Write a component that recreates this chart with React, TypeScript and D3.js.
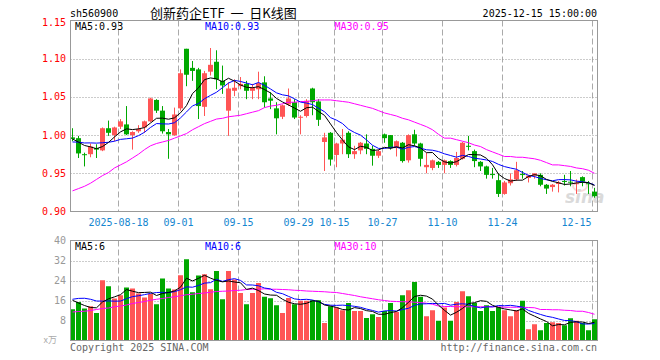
import React, { useEffect, useRef } from 'react'
import * as d3 from 'd3'

// trading days shown on the chart (2025-08-06 .. 2025-12-15)
const dates = [
  '08-06', '08-07', '08-08', '08-11', '08-12', '08-13', '08-14', '08-15', '08-18', '08-19',
  '08-20', '08-21', '08-22', '08-25', '08-26', '08-27', '08-28', '08-29', '09-01', '09-02',
  '09-03', '09-04', '09-05', '09-08', '09-09', '09-10', '09-11', '09-12', '09-15', '09-16',
  '09-17', '09-18', '09-19', '09-22', '09-23', '09-24', '09-25', '09-26', '09-29', '09-30',
  '10-09', '10-10', '10-13', '10-14', '10-15', '10-16', '10-17', '10-20', '10-21', '10-22',
  '10-23', '10-24', '10-27', '10-28', '10-29', '10-30', '10-31', '11-03', '11-04', '11-05',
  '11-06', '11-07', '11-10', '11-11', '11-12', '11-13', '11-14', '11-17', '11-18', '11-19',
  '11-20', '11-21', '11-24', '11-25', '11-26', '11-27', '11-28', '12-01', '12-02', '12-03',
  '12-04', '12-05', '12-08', '12-09', '12-10', '12-11', '12-12', '12-15'
]

const opens = [
  0.997, 0.996, 0.975, 0.975, 0.983, 0.980, 1.009, 1.000, 1.011, 1.014,
  1.000, 1.005, 1.010, 1.018, 1.046, 1.032, 1.004, 1.000, 1.035, 1.113,
  1.088, 1.086, 1.037, 1.083, 1.096, 1.071, 1.032, 1.058, 1.064, 1.067,
  1.058, 1.060, 1.069, 1.048, 1.035, 1.024, 1.040, 1.043, 1.023, 1.025,
  1.061, 1.044, 0.991, 1.003, 0.974, 0.989, 1.003, 0.975, 0.980, 0.989,
  0.982, 0.973, 1.001, 1.000, 0.983, 0.990, 0.967, 1.001, 0.989, 0.958,
  0.957, 0.965, 0.961, 0.966, 0.961, 0.969, 0.986, 0.979, 0.965, 0.959,
  0.949, 0.941, 0.923, 0.937, 0.942, 0.949, 0.944, 0.947, 0.948, 0.935,
  0.932, 0.936, 0.940, 0.939, 0.936, 0.945, 0.937, 0.926
]
const highs = [
  1.009, 0.999, 0.977, 0.989, 0.988, 1.010, 1.019, 1.011, 1.021, 1.038,
  1.005, 1.013, 1.019, 1.049, 1.047, 1.038, 1.008, 1.036, 1.086, 1.113,
  1.097, 1.088, 1.084, 1.114, 1.111, 1.091, 1.069, 1.073, 1.076, 1.071,
  1.067, 1.083, 1.077, 1.056, 1.043, 1.040, 1.061, 1.047, 1.026, 1.047,
  1.062, 1.047, 1.003, 1.004, 0.990, 1.008, 1.005, 0.986, 0.991, 1.001,
  0.986, 0.981, 1.002, 1.000, 0.993, 0.991, 1.001, 1.007, 0.990, 0.977,
  0.968, 0.966, 0.968, 0.967, 0.978, 0.991, 0.999, 0.981, 0.966, 0.960,
  0.957, 0.950, 0.940, 0.950, 0.965, 0.953, 0.948, 0.950, 0.950, 0.936,
  0.936, 0.940, 0.948, 0.953, 0.942, 0.946, 0.940, 0.931
]
const lows = [
  0.992, 0.970, 0.959, 0.971, 0.970, 0.979, 0.999, 0.992, 1.008, 1.000,
  0.981, 1.003, 1.003, 1.017, 1.029, 1.002, 0.969, 0.999, 1.032, 1.064,
  1.071, 1.021, 1.025, 1.078, 1.060, 1.054, 0.999, 1.051, 1.060, 1.047,
  1.047, 1.047, 1.036, 1.034, 1.001, 1.021, 1.038, 1.021, 1.001, 1.023,
  1.026, 1.012, 0.953, 0.960, 0.958, 0.975, 0.970, 0.969, 0.975, 0.975,
  0.960, 0.970, 0.990, 0.981, 0.972, 0.964, 0.964, 0.986, 0.959, 0.950,
  0.954, 0.957, 0.950, 0.957, 0.959, 0.968, 0.980, 0.958, 0.953, 0.943,
  0.943, 0.919, 0.922, 0.934, 0.940, 0.943, 0.938, 0.943, 0.933, 0.923,
  0.926, 0.925, 0.934, 0.933, 0.923, 0.933, 0.923, 0.918
]
const closes = [
  0.995, 0.976, 0.974, 0.985, 0.981, 1.009, 1.003, 1.010, 1.018, 1.001,
  1.004, 1.008, 1.018, 1.048, 1.032, 1.005, 1.001, 1.027, 1.081, 1.079,
  1.084, 1.038, 1.081, 1.092, 1.073, 1.065, 1.061, 1.062, 1.067, 1.058,
  1.062, 1.068, 1.043, 1.045, 1.022, 1.039, 1.048, 1.023, 1.024, 1.045,
  1.043, 1.020, 0.997, 0.968, 0.989, 0.994, 0.975, 0.979, 0.990, 0.982,
  0.973, 0.979, 0.996, 0.983, 0.992, 0.966, 1.000, 0.989, 0.969, 0.961,
  0.967, 0.961, 0.967, 0.961, 0.970, 0.990, 0.985, 0.966, 0.959, 0.948,
  0.948, 0.923, 0.938, 0.942, 0.954, 0.948, 0.947, 0.950, 0.935, 0.930,
  0.935, 0.938, 0.939, 0.938, 0.937, 0.939, 0.936, 0.920
]
// closes of the 9 sessions before the window, for the MA5 / MA10 warm-up
const priorCloses = [0.978, 0.985, 0.984, 0.984, 1.004, 0.997, 0.996, 0.994, 0.993]
// MA30 of price as drawn
const priceMA30 = [
  0.927, 0.930, 0.933, 0.937, 0.942, 0.947, 0.951, 0.957, 0.961, 0.965,
  0.970, 0.975, 0.981, 0.986, 0.989, 0.991, 0.993, 0.996, 0.999, 1.002,
  1.007, 1.011, 1.015, 1.018, 1.021, 1.022, 1.024, 1.025, 1.026, 1.028,
  1.030, 1.032, 1.036, 1.038, 1.039, 1.041, 1.043, 1.043, 1.044, 1.044,
  1.045, 1.046, 1.046, 1.046, 1.045, 1.044, 1.043, 1.041, 1.039, 1.037,
  1.035, 1.032, 1.029, 1.027, 1.025, 1.022, 1.020, 1.017, 1.014, 1.011,
  1.007, 1.001, 0.996, 0.996, 0.994, 0.992, 0.990, 0.987, 0.985, 0.981,
  0.978, 0.975, 0.972, 0.972, 0.971, 0.971, 0.970, 0.969, 0.967, 0.964,
  0.961, 0.961, 0.960, 0.959, 0.957, 0.956, 0.954, 0.950
]

// volume, 万手
const volumes = [
  12.5, 15.4, 12.8, 13.7, 11.0, 24.1, 21.7, 16.8, 18.1, 21.2,
  20.8, 18.8, 17.2, 18.7, 14.5, 24.8, 20.8, 20.4, 26.1, 32.5,
  19.3, 26.0, 26.5, 20.5, 27.8, 16.5, 27.8, 24.4, 19.0, 14.5,
  19.0, 23.0, 17.5, 16.9, 14.1, 11.0, 17.0, 14.5, 15.9, 15.9,
  16.1, 16.1, 7.0, 13.7, 13.2, 12.1, 15.0, 11.8, 11.8, 9.0,
  10.5, 9.4, 11.8, 15.0, 11.4, 18.1, 20.1, 23.4, 17.5, 9.7,
  12.1, 7.9, 13.2, 7.9, 15.4, 19.7, 17.7, 15.0, 11.8, 14.1,
  11.8, 13.4, 12.1, 9.7, 12.1, 15.9, 4.5, 6.5, 4.1, 7.0,
  7.3, 7.0, 6.1, 8.9, 7.9, 7.0, 4.1, 8.5
]
const priorVolumes = [12.0, 12.2, 17.8, 17.9, 24.6, 20.9, 17.8, 17.7, 11.6]
const volumeMA30 = [
  11.4, 11.6, 11.7, 12.0, 12.4, 12.8, 13.0, 13.5, 13.8, 14.2,
  14.8, 15.2, 15.6, 16.1, 16.5, 16.8, 17.2, 17.5, 17.9, 18.3,
  18.5, 18.8, 19.0, 19.3, 19.6, 19.7, 19.8, 20.0, 20.1, 20.4,
  20.5, 20.5, 20.7, 20.5, 20.5, 20.4, 20.3, 20.1, 20.0, 19.8,
  19.7, 19.6, 19.5, 19.3, 19.2, 18.8, 18.4, 18.0, 17.5, 17.1,
  16.7, 16.3, 16.0, 15.7, 15.6, 15.5, 15.5, 15.3, 15.2, 14.9,
  14.5, 13.8, 13.6, 13.6, 13.5, 13.5, 13.5, 13.5, 13.5, 13.5,
  13.5, 13.5, 13.3, 13.3, 13.3, 13.3, 13.2, 13.1, 12.4, 12.4,
  12.3, 12.3, 12.1, 12.0, 11.7, 11.7, 11.2, 10.5
]

const priceTicks = [0.90, 0.95, 1.00, 1.05, 1.10, 1.15]
const volumeTicks = [8, 16, 24, 32, 40]
const tickDates = ['08-18', '09-01', '09-15', '09-29', '10-15', '10-27', '11-10', '11-24', '12-15']
const tickLabels = ['2025-08-18', '09-01', '09-15', '09-29', '10-15', '10-27', '11-10', '11-24', '12-15']

const RED = '#ff5555'
const GREEN = '#00a800'
const MONO = '"DejaVu Sans Mono", monospace'

// simple moving average with some history in front
function movingAverage(values: number[], prior: number[], n: number) {
  const all = prior.concat(values)
  return values.map((_, i) => {
    const end = prior.length + i
    return d3.mean(all.slice(end - n + 1, end + 1)) as number
  })
}

export default function App() {
  const svgRef = useRef<SVGSVGElement | null>(null)

  useEffect(() => {
    if (!svgRef.current) return
    const svg = d3.select(svgRef.current)
    svg.selectAll('*').remove()

    const left = 70.5, right = 597.5
    const pTop = 20.5, pBottom = 211.5
    const vTop = 240.5, vBottom = 340.5

    const x = d3.scaleBand<string>().domain(dates).range([69.5, 597.5])
    const cx = (d: string) => (x(d) as number) + 3
    const y = d3.scaleLinear().domain([0.90, 1.15]).range([pBottom, pTop])
    const yv = d3.scaleLinear().domain([0, 40]).range([vBottom, vTop])

    const up = (i: number) => closes[i] >= opens[i]

    // header
    svg.append('text').attr('x', 70).attr('y', 13).attr('dominant-baseline', 'central')
      .style('font', `10px ${MONO}`).attr('fill', '#000').text('sh560900')
    svg.append('text').attr('x', 150).attr('y', 12.5).attr('dominant-baseline', 'central')
      .style('font', '13px "Noto Sans CJK SC"').style('white-space', 'pre')
      .attr('fill', '#000').text('创新药企ETF  一  日K线图')
    svg.append('text').attr('x', 597).attr('y', 13).attr('text-anchor', 'end').attr('dominant-baseline', 'central')
      .style('font', `10px ${MONO}`).attr('fill', '#000').text('2025-12-15 15:00:00')

    // grids for both panels
    const panels = [[pTop, pBottom], [vTop, vBottom]]
    panels.forEach(([t, b]) => {
      svg.append('g').selectAll('line').data(tickDates).enter().append('line')
        .attr('x1', d => cx(d) - 2).attr('x2', d => cx(d) - 2)
        .attr('y1', t).attr('y2', b)
        .attr('stroke', '#aaa').attr('stroke-dasharray', '6,3')
    })
    svg.append('g').selectAll('line').data(priceTicks.slice(1, -1)).enter().append('line')
      .attr('x1', left).attr('x2', right)
      .attr('y1', d => Math.round(y(d)) + 0.5).attr('y2', d => Math.round(y(d)) + 0.5)
      .attr('stroke', '#999').attr('stroke-dasharray', '1,2')
    svg.append('g').selectAll('line').data(volumeTicks.slice(0, -1)).enter().append('line')
      .attr('x1', left).attr('x2', right)
      .attr('y1', d => Math.round(yv(d)) + 0.5).attr('y2', d => Math.round(yv(d)) + 0.5)
      .attr('stroke', '#999').attr('stroke-dasharray', '1,2')

    // watermark
    const wm = svg.append('g').attr('opacity', 0.3)
    wm.append('ellipse').attr('cx', 580).attr('cy', 186).attr('rx', 7).attr('ry', 5)
      .attr('fill', 'none').attr('stroke', '#e88').attr('stroke-width', 2)
    wm.append('text').attr('x', 565).attr('y', 203)
      .style('font', 'italic bold 17px "DejaVu Sans"').attr('fill', '#888').text('sina')

    // candles
    const candles = svg.append('g')
    dates.forEach((d, i) => {
      const c = up(i) ? RED : GREEN
      const xc = cx(d)
      candles.append('line')
        .attr('x1', xc).attr('x2', xc)
        .attr('y1', y(highs[i])).attr('y2', y(lows[i]))
        .attr('stroke', c)
      const top = y(Math.max(opens[i], closes[i]))
      const bot = y(Math.min(opens[i], closes[i]))
      candles.append('rect')
        .attr('x', xc - 2.5).attr('width', 5)
        .attr('y', top).attr('height', Math.max(1, bot - top))
        .attr('fill', c)
    })

    // volume bars
    svg.append('g').selectAll('rect').data(volumes).enter().append('rect')
      .attr('x', (_, i) => cx(dates[i]) - 2.5).attr('width', 5)
      .attr('y', v => yv(v)).attr('height', v => vBottom - yv(v))
      .attr('fill', (_, i) => (up(i) ? RED : GREEN))

    // moving averages
    const drawLine = (vals: number[], scale: d3.ScaleLinear<number, number>, color: string) => {
      const line = d3.line<number>().x((_, i) => cx(dates[i])).y(v => scale(v))
      svg.append('path').datum(vals).attr('d', line)
        .attr('fill', 'none').attr('stroke', color).attr('stroke-width', 1)
    }
    drawLine(priceMA30, y, '#ff00ff')
    drawLine(movingAverage(closes, priorCloses, 10), y, '#0000ff')
    drawLine(movingAverage(closes, priorCloses, 5), y, '#000000')
    drawLine(volumeMA30, yv, '#ff00ff')
    drawLine(movingAverage(volumes, priorVolumes, 10), yv, '#0000ff')
    drawLine(movingAverage(volumes, priorVolumes, 5), yv, '#000000')

    // frames
    panels.forEach(([t, b]) => {
      svg.append('rect').attr('x', left).attr('y', t).attr('width', right - left).attr('height', b - t)
        .attr('fill', 'none').attr('stroke', '#999')
    })

    // price axis
    svg.append('g').selectAll('text').data(priceTicks).enter().append('text')
      .attr('x', 66).attr('y', d => y(d) + (d === 1.15 ? 1.5 : 0))
      .attr('text-anchor', 'end').attr('dominant-baseline', 'central')
      .style('font', `10px ${MONO}`).attr('fill', '#ff0000')
      .text(d => d.toFixed(2))

    // volume axis
    svg.append('g').selectAll('text').data(volumeTicks).enter().append('text')
      .attr('x', 66).attr('y', d => yv(d))
      .attr('text-anchor', 'end').attr('dominant-baseline', 'central')
      .style('font', `10px ${MONO}`).attr('fill', '#999')
      .text(d => String(d))
    svg.append('text').attr('x', 57).attr('y', 339).attr('text-anchor', 'end').attr('dominant-baseline', 'central')
      .style('font', '9px "Noto Sans CJK SC"').attr('fill', '#aaa').text('x万')

    // date labels
    svg.append('g').selectAll('text').data(tickDates).enter().append('text')
      .attr('x', (d, i) => (i === tickDates.length - 1 ? cx(d) - 3 : cx(d) - 2))
      .attr('y', 222)
      .attr('text-anchor', (_, i) => (i === tickDates.length - 1 ? 'end' : 'middle'))
      .attr('dominant-baseline', 'central')
      .style('font', `10px ${MONO}`).attr('fill', '#1586d0')
      .text((_, i) => tickLabels[i])

    // legends
    const legend = (yy: number, items: [string, string][]) => {
      const xs = [75, 205, 334.5]
      items.forEach(([t, c], k) => {
        svg.append('text').attr('x', xs[k]).attr('y', yy).attr('dominant-baseline', 'central')
          .style('font', `10px ${MONO}`).attr('fill', c).text(t)
      })
    }
    legend(26, [['MA5:0.93', '#000'], ['MA10:0.93', '#0000ff'], ['MA30:0.95', '#ff00ff']])
    legend(246, [['MA5:6', '#000'], ['MA10:6', '#0000ff'], ['MA30:10', '#ff00ff']])

    // footer
    svg.append('text').attr('x', 70).attr('y', 347).attr('dominant-baseline', 'central')
      .style('font', `10px ${MONO}`).attr('fill', '#666').text('Copyright 2025 SINA.COM')
    svg.append('text').attr('x', 597).attr('y', 347).attr('text-anchor', 'end').attr('dominant-baseline', 'central')
      .style('font', `10px ${MONO}`).attr('fill', '#666').text('http://finance.sina.com.cn')
  }, [])

  return (
    <svg ref={svgRef} width={660} height={360}
      style={{ position: 'absolute', left: 0, top: 0, background: '#fff' }} />
  )
}
